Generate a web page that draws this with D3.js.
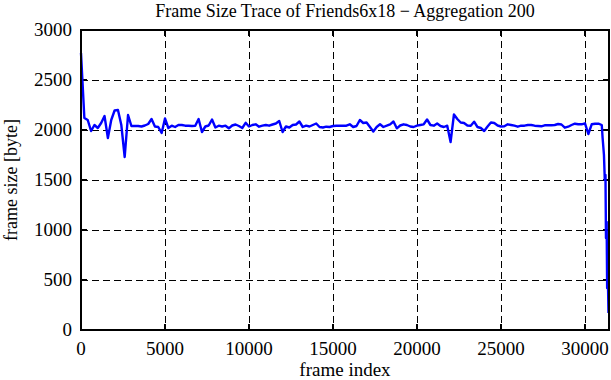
<!DOCTYPE html>
<html lang="en">
<head>
<meta charset="UTF-8">
<title>Frame Size Trace</title>
<script src="https://d3js.org/d3.v7.min.js"></script>
<style>
    body { margin: 0; background: #fff; }
    text { font-family: "Liberation Serif", "DejaVu Serif", serif; fill: #000; }
    .grid line { stroke: #000; stroke-width: 1; stroke-dasharray: 7 4; shape-rendering: crispEdges; }
</style>
</head>
<body>
<div id="chart"></div>
<script>
    // aggregated frame sizes, one value every 200 frames (0 .. 31000)
    const step = 200;
    const frameSize = [
        2770, 2120, 2100, 1990, 2050, 2020, 2070, 2140, 1920, 2100,
        2195, 2200, 2050, 1730, 2150, 2040, 2040, 2040, 2035, 2045,
        2060, 2110, 2035, 2030, 1970, 2115, 2020, 2043, 2030, 2050,
        2050, 2043, 2043, 2040, 2043, 2110, 1980, 2035, 2045, 2105,
        2025, 2043, 2035, 2043, 2017, 2045, 2055, 2040, 2020, 2072,
        2035, 2050, 2057, 2033, 2043, 2050, 2043, 2055, 2065, 2090,
        1980, 2035, 2025, 2050, 2055, 2085, 2030, 2043, 2035, 2050,
        2065, 2030, 2025, 2033, 2030, 2040, 2043, 2043, 2043, 2043,
        2057, 2030, 2040, 2100, 2070, 2075, 2030, 1985, 2030, 2057,
        2030, 2043, 2057, 2085, 2017, 2045, 2057, 2050, 2035, 2030,
        2043, 2050, 2057, 2105, 2050, 2043, 2065, 2040, 2030, 2043,
        1880, 2155, 2110, 2075, 2070, 2045, 2043, 2083, 2030, 2020,
        1990, 2035, 2075, 2070, 2045, 2035, 2037, 2057, 2050, 2043,
        2033, 2043, 2043, 2050, 2050, 2043, 2040, 2037, 2047, 2047,
        2047, 2050, 2060, 2055, 2023, 2033, 2050, 2063, 2057, 2057,
        2067, 1960, 2057, 2063, 2063, 2050
    ];
    // the last few frames where the trace falls off
    const tailFrames = [31050, 31130, 31180, 31220, 31250, 31290, 31320, 31350, 31400];
    const tailSizes  = [1920, 1750, 1500, 1550, 920, 1080, 420, 650, 170];

    const xTicks = [0, 5000, 10000, 15000, 20000, 25000, 30000];
    const yTicks = [0, 500, 1000, 1500, 2000, 2500, 3000];

    const data = frameSize.map((v, i) => ({ frame: i * step, size: v }))
        .concat(tailFrames.map((f, i) => ({ frame: f, size: tailSizes[i] })));

    const W = 611, H = 380;
    const margin = { top: 30, right: 2, bottom: 50, left: 81 };
    const width = W - margin.left - margin.right,
          height = H - margin.top - margin.bottom;

    const svg = d3.select("#chart").append("svg")
        .attr("width", W).attr("height", H);
    const g = svg.append("g")
        .attr("transform", `translate(${margin.left},${margin.top})`);

    const x = d3.scaleLinear().domain([0, 31430]).range([0, width]);
    const y = d3.scaleLinear().domain([0, 3000]).range([height, 0]);

    // dashed grid
    const grid = g.append("g").attr("class", "grid");
    grid.selectAll(".gx").data(xTicks.slice(1)).enter().append("line")
        .attr("x1", d => Math.round(x(d)) + 0.5).attr("x2", d => Math.round(x(d)) + 0.5)
        .attr("y1", 0).attr("y2", height);
    grid.selectAll(".gy").data(yTicks.slice(1, -1)).enter().append("line")
        .attr("x1", 0).attr("x2", width)
        .attr("y1", d => Math.round(y(d)) + 0.5).attr("y2", d => Math.round(y(d)) + 0.5);

    // inward tick marks on all four sides
    const tickLen = 6;
    const ticks = g.append("g").attr("stroke", "#000").attr("stroke-width", 1.5)
        .attr("shape-rendering", "crispEdges");
    yTicks.forEach(t => {
        ticks.append("line").attr("x1", 0).attr("x2", tickLen).attr("y1", y(t)).attr("y2", y(t));
        ticks.append("line").attr("x1", width - tickLen).attr("x2", width).attr("y1", y(t)).attr("y2", y(t));
    });
    xTicks.forEach(t => {
        ticks.append("line").attr("x1", x(t)).attr("x2", x(t)).attr("y1", height).attr("y2", height - tickLen);
        ticks.append("line").attr("x1", x(t)).attr("x2", x(t)).attr("y1", 0).attr("y2", tickLen);
    });

    // tick labels
    g.selectAll(".xl").data(xTicks).enter().append("text")
        .attr("x", d => x(d)).attr("y", height + 25)
        .attr("text-anchor", "middle").attr("font-size", 19)
        .text(d => d);
    g.selectAll(".yl").data(yTicks).enter().append("text")
        .attr("x", -9).attr("y", d => y(d) + 6)
        .attr("text-anchor", "end").attr("font-size", 19)
        .text(d => d);

    // the trace
    const line = d3.line().x(d => x(d.frame)).y(d => y(d.size));
    g.append("path").datum(data)
        .attr("fill", "none")
        .attr("stroke", "#0000ff")
        .attr("stroke-width", 2.4)
        .attr("stroke-linejoin", "round")
        .attr("d", line);

    // border
    g.append("rect")
        .attr("width", width).attr("height", height)
        .attr("fill", "none").attr("stroke", "#000").attr("stroke-width", 2)
        .attr("shape-rendering", "crispEdges");

    // titles
    svg.append("text")
        .attr("x", margin.left + width / 2).attr("y", 17)
        .attr("text-anchor", "middle").attr("font-size", 18)
        .text("Frame Size Trace of Friends6x18 \u2212 Aggregation 200");
    svg.append("text")
        .attr("x", margin.left + width / 2).attr("y", 376)
        .attr("text-anchor", "middle").attr("font-size", 19)
        .text("frame index");
    svg.append("text")
        .attr("transform", `translate(17,${margin.top + height / 2}) rotate(-90)`)
        .attr("text-anchor", "middle").attr("font-size", 18)
        .text("frame size [byte]");
</script>
</body>
</html>
